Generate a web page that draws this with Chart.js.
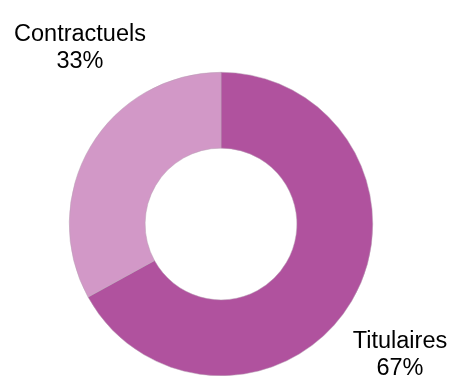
<!DOCTYPE html>
<html>
<head>
<meta charset="utf-8">
<script src="https://cdn.jsdelivr.net/npm/chart.js@4"></script>
<style>
  html, body { margin: 0; padding: 0; background: #fff; }
  #wrap { width: 452px; height: 376px; }
</style>
</head>
<body>
<div id="wrap"><canvas id="statutChart" width="452" height="376"></canvas></div>
<script>
var categories = ["Titulaires", "Contractuels"];
var shares = [67, 33];
var colors = ["#b0529e", "#d298c7"];

// label anchors relative to the donut centre (baseline of first line)
var sliceLabels = {
  id: "sliceLabels",
  afterDatasetsDraw: function(chart, args, opts) {
    var ctx = chart.ctx;
    var arcs = chart.getDatasetMeta(0).data;
    ctx.save();
    ctx.fillStyle = "#000";
    ctx.font = "23.5px 'Liberation Sans', Arial, sans-serif";
    ctx.textAlign = "center";
    ctx.textBaseline = "alphabetic";
    arcs.forEach(function(arc, i) {
      var off = opts.offsets[i];
      var x = arc.x + off[0], y = arc.y + off[1];
      ctx.fillText(chart.data.labels[i], x, y);
      ctx.fillText(chart.data.datasets[0].data[i] + "%", x, y + 27);
    });
    ctx.restore();
  }
};

new Chart(document.getElementById("statutChart"), {
  type: "doughnut",
  data: {
    labels: categories,
    datasets: [{
      data: shares,
      backgroundColor: colors,
      borderColor: "#b8a0b4",
      borderWidth: 0.5
    }]
  },
  options: {
    responsive: false,
    animation: false,
    cutout: "50%",
    layout: { padding: { top: 72, bottom: 0, left: 69, right: 79 } },
    plugins: {
      legend: { display: false },
      tooltip: { enabled: false },
      sliceLabels: { offsets: [[179, 124], [-141, -183]] }
    }
  },
  plugins: [sliceLabels]
});
</script>
</body>
</html>
